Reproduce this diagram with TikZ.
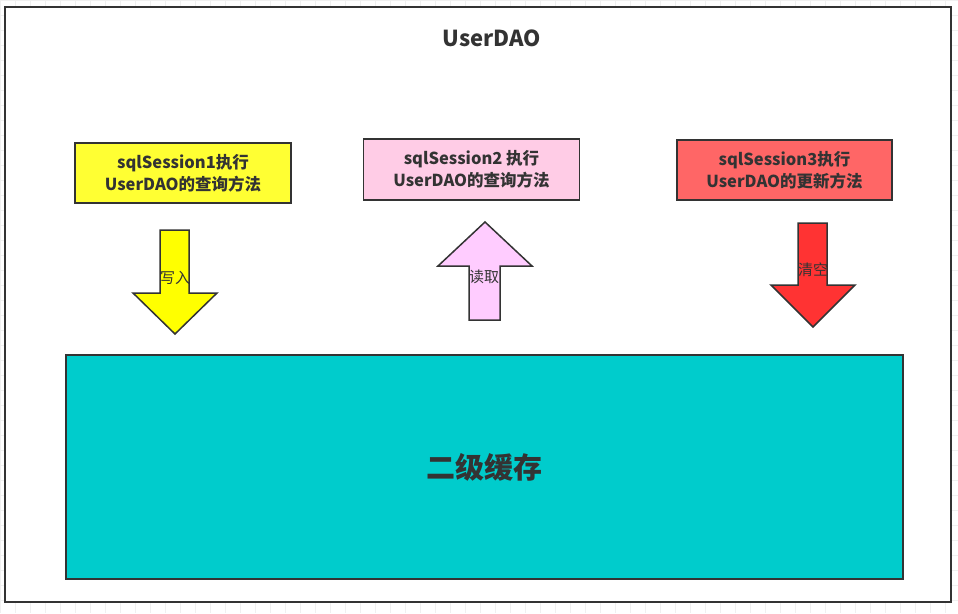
\documentclass[tikz,border=0pt]{standalone}
\usepackage{fontspec}
\setmainfont{Noto Sans CJK SC}
\usepackage{xcolor}
\usepackage{tikz}
\usetikzlibrary{shapes.geometric, arrows}
\definecolor{txt}{HTML}{333333}
\definecolor{gul}{HTML}{FFFF33}
\definecolor{rosa}{HTML}{FFCCE6}
\definecolor{rod}{HTML}{FF6666}
\definecolor{pilgul}{HTML}{FFFF00}
\definecolor{pilrosa}{HTML}{FFCCFF}
\definecolor{pilrod}{HTML}{FF3333}
\definecolor{cache}{HTML}{00CCCC}
\tikzstyle{sesjon} = [rectangle, draw=txt, line width=1.5pt, minimum width=216pt, minimum height=60pt, text=txt, font=\bfseries\fontsize{16.5}{22}\selectfont, align=center, inner sep=0pt]
\tikzstyle{pil} = [draw=txt, line width=1.5pt, line join=miter]
\tikzstyle{piltekst} = [text=txt, font=\fontsize{15}{17}\selectfont, inner sep=0pt]

\begin{document}
\begin{tikzpicture}[x=1pt, y=-1pt]
	\useasboundingbox (0,0) rectangle (958,613);
	% bakgrunn
	\draw[gray!12, line width=0.6pt] (0,0) grid[step=15pt] (958,613);
	\node (ramme) [rectangle, draw=txt, fill=white, line width=1.5pt, minimum width=946pt, minimum height=595pt] at (478,304.5) {};
	\node (tittel) [text=txt, font=\bfseries\fontsize{22}{24}\selectfont] at (492,38) {UserDAO};
	
	\node (sesjon1) [sesjon, fill=gul] at (183,173) {sqlSession1执行\\UserDAO的查询方法};
	\node (sesjon2) [sesjon, fill=rosa, minimum height=61pt] at (471.5,169.5) {sqlSession2 执行\\UserDAO的查询方法};
	\node (sesjon3) [sesjon, fill=rod, minimum width=215pt] at (784.5,170) {sqlSession3执行\\UserDAO的更新方法};
	\node (cache) [rectangle, draw=txt, fill=cache, line width=1.5pt, minimum width=837pt, minimum height=224pt, text=txt, font=\bfseries\fontsize{29}{32}\selectfont] at (484.5,467) {二级缓存};
	
	% piler
	\draw [pil, fill=pilgul] (160,230) -- (189,230) -- (189,293) -- (217,293) -- (175,334) -- (133,293) -- (160,293) -- cycle;
	\node (skriv) [piltekst] at (175,278) {写入};
	\draw [pil, fill=pilrosa] (485,222) -- (532,266) -- (500,266) -- (500,320) -- (469,320) -- (469,266) -- (438,266) -- cycle;
	\node (les) [piltekst] at (484,277) {读取};
	\draw [pil, fill=pilrod] (798,223) -- (827,223) -- (827,285) -- (855,285) -- (813,327) -- (771,285) -- (798,285) -- cycle;
	\node (tom) [piltekst] at (813,270) {清空};
\end{tikzpicture}
\end{document}
